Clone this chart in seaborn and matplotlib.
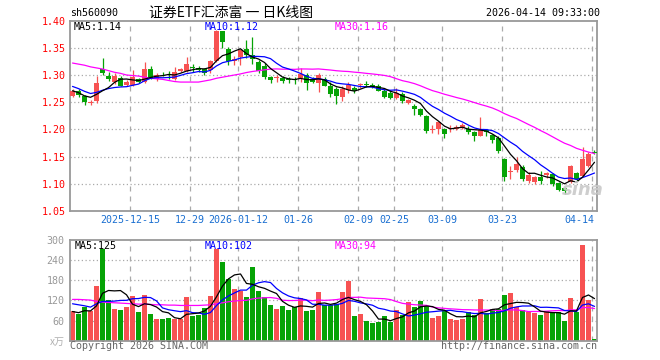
import numpy as np
import pandas as pd
import matplotlib
matplotlib.use("Agg")
import matplotlib.pyplot as plt
import matplotlib.transforms as mtrans
import seaborn as sns

# ---------------- data ----------------
opens = [1.262, 1.271, 1.262, 1.249, 1.252, 1.311, 1.299, 1.288, 1.294, 1.281,
         1.282, 1.292, 1.287, 1.311, 1.292, 1.302, 1.299, 1.293, 1.308, 1.307,
         1.314, 1.313, 1.311, 1.309, 1.325, 1.380, 1.347, 1.325, 1.334, 1.348,
         1.336, 1.323, 1.317, 1.297, 1.295, 1.295, 1.292, 1.292, 1.295, 1.300,
         1.293, 1.285, 1.292, 1.280, 1.274, 1.260, 1.272, 1.276, 1.281, 1.284,
         1.282, 1.280, 1.271, 1.267, 1.258, 1.265, 1.248, 1.243, 1.238, 1.224,
         1.199, 1.201, 1.200, 1.200, 1.201, 1.203, 1.200, 1.195, 1.188, 1.199,
         1.189, 1.185, 1.146, 1.121, 1.125, 1.131, 1.105, 1.104, 1.112, 1.116,
         1.118, 1.101, 1.092, 1.104, 1.120, 1.115, 1.133, 1.158]
highs = [1.274, 1.274, 1.264, 1.254, 1.298, 1.332, 1.305, 1.303, 1.298, 1.291,
         1.309, 1.295, 1.323, 1.317, 1.304, 1.305, 1.307, 1.314, 1.313, 1.334,
         1.320, 1.316, 1.313, 1.328, 1.382, 1.381, 1.352, 1.335, 1.348, 1.365,
         1.369, 1.327, 1.322, 1.299, 1.300, 1.298, 1.297, 1.296, 1.313, 1.303,
         1.296, 1.304, 1.296, 1.288, 1.278, 1.279, 1.287, 1.279, 1.285, 1.289,
         1.285, 1.283, 1.274, 1.270, 1.276, 1.268, 1.256, 1.246, 1.240, 1.226,
         1.209, 1.216, 1.202, 1.208, 1.209, 1.212, 1.206, 1.197, 1.223, 1.201,
         1.191, 1.187, 1.148, 1.132, 1.150, 1.134, 1.122, 1.114, 1.124, 1.122,
         1.120, 1.103, 1.095, 1.135, 1.122, 1.167, 1.158, 1.163]
lows = [1.259, 1.259, 1.245, 1.244, 1.249, 1.300, 1.289, 1.283, 1.279, 1.279,
        1.280, 1.285, 1.285, 1.292, 1.289, 1.298, 1.292, 1.291, 1.306, 1.305,
        1.306, 1.306, 1.300, 1.303, 1.323, 1.350, 1.319, 1.318, 1.319, 1.331,
        1.321, 1.304, 1.293, 1.285, 1.288, 1.286, 1.286, 1.284, 1.287, 1.272,
        1.285, 1.268, 1.279, 1.259, 1.247, 1.253, 1.267, 1.267, 1.277, 1.278,
        1.276, 1.270, 1.257, 1.255, 1.255, 1.248, 1.246, 1.226, 1.225, 1.193,
        1.193, 1.192, 1.184, 1.195, 1.198, 1.200, 1.192, 1.179, 1.187, 1.187,
        1.175, 1.157, 1.105, 1.108, 1.122, 1.105, 1.102, 1.099, 1.100, 1.110,
        1.096, 1.087, 1.082, 1.102, 1.105, 1.114, 1.131, 1.155]
closes = [1.271, 1.264, 1.250, 1.251, 1.286, 1.304, 1.293, 1.298, 1.280, 1.288,
          1.296, 1.287, 1.311, 1.295, 1.300, 1.301, 1.298, 1.306, 1.311, 1.320,
          1.313, 1.309, 1.303, 1.325, 1.381, 1.360, 1.325, 1.329, 1.346, 1.336,
          1.329, 1.307, 1.297, 1.291, 1.297, 1.289, 1.291, 1.290, 1.302, 1.286,
          1.287, 1.300, 1.280, 1.265, 1.261, 1.275, 1.281, 1.270, 1.283, 1.282,
          1.280, 1.271, 1.260, 1.257, 1.267, 1.252, 1.254, 1.238, 1.227, 1.197,
          1.201, 1.213, 1.192, 1.202, 1.205, 1.208, 1.195, 1.187, 1.199, 1.195,
          1.181, 1.160, 1.112, 1.123, 1.136, 1.109, 1.116, 1.113, 1.105, 1.120,
          1.100, 1.089, 1.086, 1.133, 1.108, 1.145, 1.155, 1.157]
volumes = [87, 80, 101, 87, 164, 274, 122, 95, 92, 101,
           134, 86, 137, 80, 65, 65, 68, 65, 64, 131,
           74, 78, 96, 134, 272, 234, 185, 155, 148, 131,
           221, 149, 131, 107, 95, 104, 92, 99, 128, 89,
           92, 146, 107, 107, 108, 146, 177, 74, 80, 59,
           53, 56, 74, 56, 92, 77, 116, 101, 119, 104,
           68, 74, 89, 65, 62, 65, 86, 77, 125, 83,
           95, 95, 137, 143, 101, 92, 86, 83, 78, 87,
           85, 85, 60, 128, 86, 285, 122, 6]

# moving-average values shown before enough in-window history exists
ma10_price_head = [1.279, 1.275, 1.270, 1.266, 1.268, 1.272, 1.275, 1.277, 1.278]
ma30_price_head = [1.322, 1.320, 1.318, 1.315, 1.313, 1.311, 1.308, 1.305, 1.303, 1.300,
                   1.299, 1.298, 1.296, 1.294, 1.293, 1.292, 1.290, 1.288, 1.287, 1.287,
                   1.287, 1.287, 1.289, 1.291, 1.294, 1.296, 1.298, 1.300, 1.302]
ma10_vol_head = [110, 107, 104, 100, 110, 117, 117, 118, 120]
ma30_vol_head = [123, 123, 122, 121, 117, 115, 114, 113, 112, 111,
                 110, 109, 109, 108, 107, 107, 106, 106, 105, 105,
                 105, 105, 106, 107, 110, 113, 116, 118, 120]

tick_pos = [10, 20, 28, 38, 48, 54, 62, 72, 87]
tick_labels = ["2025-12-15", "12-29", "2026-01-12", "01-26", "02-09",
               "02-25", "03-09", "03-23", "04-14"]
price_ticks = [1.05, 1.10, 1.15, 1.20, 1.25, 1.30, 1.35, 1.40]
vol_ticks = [0, 60, 120, 180, 240, 300]
vol_tick_labels = ["x万", "60", "120", "180", "240", "300"]

code_text = "sh560090"
title_text = "证券ETF汇添富 一 日K线图"
time_text = "2026-04-14 09:33:00"
price_ma_labels = ["MA5:1.14", "MA10:1.12", "MA30:1.16"]
vol_ma_labels = ["MA5:125", "MA10:102", "MA30:94"]
copyright_text = "Copyright 2026 SINA.COM"
url_text = "http://finance.sina.com.cn"

# ---------------- derived ----------------
n = len(closes)
idx = np.arange(n)
o = np.array(opens); c = np.array(closes); h = np.array(highs); l = np.array(lows)
v = np.array(volumes, dtype=float)
up = c >= o

def moving(series, w, head):
    s = pd.Series(series).rolling(w).mean().to_numpy()
    if head is None:
        s2 = pd.Series(series).rolling(w, min_periods=1).mean().to_numpy()
        return s2
    s[:len(head)] = head
    return s

ma5_p = moving(c, 5, None)
ma10_p = moving(c, 10, ma10_price_head)
ma30_p = moving(c, 30, ma30_price_head)
ma5_v = moving(v, 5, None)
ma10_v = moving(v, 10, ma10_vol_head)
ma30_v = moving(v, 30, ma30_vol_head)

RED = "#f75252"
GREEN = "#06a306"
GRID = "#aaaaaa"
FRAME = "#999999"
MONO = "DejaVu Sans Mono"

sns.set_style("white")
plt.rcParams["font.family"] = ["DejaVu Sans Mono", "Noto Sans CJK SC"]

W, H = 660, 360
fig = plt.figure(figsize=(6.6, 3.6), dpi=100)
fig.patch.set_facecolor("white")

L_PX, R_PX = 70, 597
P_TOP, P_BOT = 20.6, 211
V_TOP, V_BOT = 240, 340.7
ax_p = fig.add_axes([L_PX / W, 1 - P_BOT / H, (R_PX - L_PX) / W, (P_BOT - P_TOP) / H])
ax_v = fig.add_axes([L_PX / W, 1 - V_BOT / H, (R_PX - L_PX) / W, (V_BOT - V_TOP) / H])

bw = 5 / 6
xmin, xmax = -bw / 2, n - 1 + bw / 2

# ---- price panel ----
for x in tick_pos:
    ax_p.axvline(x - 0.4, color=GRID, lw=0.9, ls=(0, (4, 4)), zorder=0)
for y in price_ticks[1:-1]:
    ax_p.axhline(y, color=GRID, lw=0.9, ls=(0, (1, 2)), zorder=0)

colors = np.where(up, RED, GREEN)
ax_p.vlines(idx, l, h, colors=colors, lw=0.9, zorder=2)
body_bot = np.minimum(o, c)
body_h = np.maximum(np.abs(c - o), 0.0006)
ax_p.bar(idx, body_h, bottom=body_bot, width=bw, color=colors, linewidth=0, zorder=3)

for ser, col in [(ma30_p, "#ff00ff"), (ma10_p, "#0000ff"), (ma5_p, "black")]:
    sns.lineplot(x=idx, y=ser, ax=ax_p, color=col, linewidth=0.9, legend=False,
                 estimator=None, zorder=4)

ax_p.set_xlim(xmin, xmax)
ax_p.set_ylim(1.05, 1.40)
ax_p.set_yticks(price_ticks)
ax_p.set_yticklabels([f"{t:.2f}" for t in price_ticks], fontsize=7.2,
                     color="#ff0000", family=MONO)
ax_p.set_xticks([])
ax_p.tick_params(axis="y", length=0, pad=3)
ax_p.set_xlabel(""); ax_p.set_ylabel("")

ax_p.text(74, 26, "", transform=None)
# MA labels inside price panel (pixel positions)
def px_text(xp, yp, s, **kw):
    fig.text(xp / W, 1 - yp / H, s, **kw)

px_text(74, 26.5, price_ma_labels[0], color="black", fontsize=7.2, family=MONO, va="center")
px_text(205, 26.5, price_ma_labels[1], color="#0000ff", fontsize=7.2, family=MONO, va="center")
px_text(335, 26.5, price_ma_labels[2], color="#ff00ff", fontsize=7.2, family=MONO, va="center")

# ---- volume panel ----
for x in tick_pos:
    ax_v.axvline(x - 0.4, color=GRID, lw=0.9, ls=(0, (4, 4)), zorder=0)
for y in vol_ticks[1:-1]:
    ax_v.axhline(y, color=GRID, lw=0.9, ls=(0, (1, 2)), zorder=0)

vdf = pd.DataFrame({"idx": idx, "vol": v, "dir": np.where(up, "up", "down")})
sns.barplot(data=vdf, x="idx", y="vol", hue="dir", palette={"up": RED, "down": GREEN},
            native_scale=True, width=bw, dodge=False, legend=False, ax=ax_v,
            linewidth=0, saturation=1, errorbar=None, zorder=2)

for ser, col in [(ma30_v, "#ff00ff"), (ma10_v, "#0000ff"), (ma5_v, "black")]:
    sns.lineplot(x=idx, y=ser, ax=ax_v, color=col, linewidth=0.9, legend=False,
                 estimator=None, zorder=4)

ax_v.set_xlim(xmin, xmax)
ax_v.set_ylim(0, 300)
ax_v.set_yticks(vol_ticks)
ax_v.set_yticklabels(vol_tick_labels, fontsize=7.2, color="#999999", family=MONO)
ax_v.get_yticklabels()[0].set_fontfamily(["Noto Sans CJK SC", "DejaVu Sans"])
ax_v.get_yticklabels()[0].set_color("#b0b0b0")
ax_v.set_xticks([])
ax_v.tick_params(axis="y", length=0, pad=4)
ax_v.set_xlabel(""); ax_v.set_ylabel("")

px_text(75, 246, vol_ma_labels[0], color="black", fontsize=7.2, family=MONO, va="center")
px_text(205, 246, vol_ma_labels[1], color="#0000ff", fontsize=7.2, family=MONO, va="center")
px_text(335, 246, vol_ma_labels[2], color="#ff00ff", fontsize=7.2, family=MONO, va="center")

for ax in (ax_p, ax_v):
    for sp in ax.spines.values():
        sp.set_color(FRAME)
        sp.set_linewidth(1.3)
        sp.set_visible(True)
    ax.set_facecolor("white")

# ---- date labels ----
trans = mtrans.blended_transform_factory(ax_p.transData, fig.transFigure)
for k, (x, lab) in enumerate(zip(tick_pos, tick_labels)):
    ha = "right" if k == len(tick_pos) - 1 else "center"
    xx = x - 0.4 + (0.4 if ha == "right" else 0)
    ax_p.text(xx, 1 - 220 / H, lab, transform=trans, ha=ha, va="center",
              fontsize=7.2, family=MONO, color="#1a6fd1", clip_on=False)

# ---- header ----
px_text(70, 12.5, code_text, fontsize=7.2, family=MONO, color="black", va="center")
px_text(231, 12.5, title_text, fontsize=10, family=["Noto Sans CJK SC", "DejaVu Sans"],
        color="black", va="center", ha="center")
px_text(600, 12.5, time_text, fontsize=7.2, family=MONO, color="black", va="center", ha="right")

# ---- footer ----
px_text(70, 346, copyright_text, fontsize=7.2, family=MONO, color="#666666", va="center")
px_text(597, 346, url_text, fontsize=7.2, family=MONO, color="#666666", va="center", ha="right")

# ---- watermark ----
px_text(583, 190, "sina", fontsize=13, family="DejaVu Sans", style="italic",
        weight="bold", color="#c9c9c9", va="center", ha="center", alpha=0.9)

fig.savefig("out.png", dpi=100, facecolor="white")
